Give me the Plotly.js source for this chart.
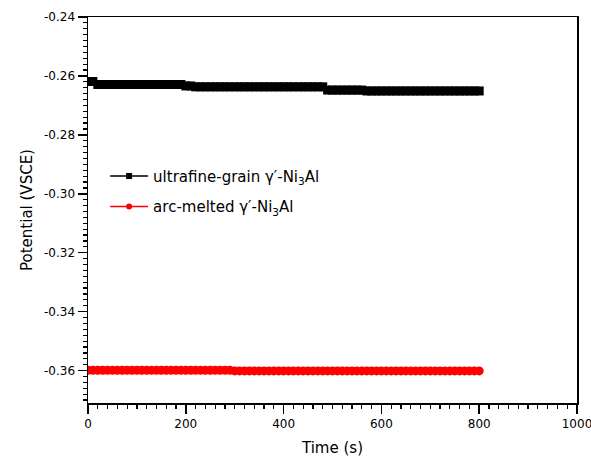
<!DOCTYPE html>
<html>
<head>
<meta charset="utf-8">
<script src="https://cdn.plot.ly/plotly-3.0.1.min.js"></script>
<style>html,body{margin:0;padding:0;background:#fff;}#chart{width:591px;height:461px;}</style>
</head>
<body>
<div id="chart"></div>
<script>
// Time in seconds (sampled every 10 s)
const timeS = [0,10,20,30,40,50,60,70,80,90,100,110,120,130,140,150,160,170,180,190,
  200,210,220,230,240,250,260,270,280,290,300,310,320,330,340,350,360,370,380,390,
  400,410,420,430,440,450,460,470,480,490,500,510,520,530,540,550,560,570,580,590,
  600,610,620,630,640,650,660,670,680,690,700,710,720,730,740,750,760,770,780,790,800];

// Potential (V vs SCE), ultrafine-grain γ'-Ni3Al
const ultrafine = [-0.2619,-0.2619,
  -0.2629,-0.2629,-0.2629,-0.2629,-0.2629,-0.2629,-0.2629,-0.2629,-0.2629,-0.2629,
  -0.2629,-0.2629,-0.2629,-0.2629,-0.2629,-0.2629,-0.2629,-0.2629,
  -0.2634,-0.2634,
  -0.2637,-0.2637,-0.2637,-0.2637,-0.2637,-0.2637,-0.2637,-0.2637,-0.2637,-0.2637,
  -0.2637,-0.2637,-0.2637,-0.2637,-0.2637,-0.2637,-0.2637,-0.2637,-0.2637,-0.2637,
  -0.2637,-0.2637,-0.2637,-0.2637,-0.2637,-0.2637,-0.2637,
  -0.2648,-0.2648,-0.2648,-0.2648,-0.2648,-0.2648,-0.2648,-0.2648,
  -0.2651,-0.2651,-0.2651,-0.2651,-0.2651,-0.2651,-0.2651,-0.2651,-0.2651,-0.2651,
  -0.2651,-0.2651,-0.2651,-0.2651,-0.2651,-0.2651,-0.2651,-0.2651,-0.2651,-0.2651,
  -0.2651,-0.2651,-0.2651,-0.2651];

// Potential (V vs SCE), arc-melted γ'-Ni3Al
const arcMelted = [-0.3599,-0.3599,-0.3599,-0.3599,-0.3599,-0.3599,-0.3599,-0.3599,-0.3599,-0.3599,
  -0.3599,-0.3599,-0.3599,-0.3599,-0.3599,-0.3599,-0.3599,-0.3599,-0.3599,-0.3599,
  -0.3599,-0.3599,-0.3599,-0.3599,-0.3599,-0.3599,-0.3599,-0.3599,-0.3599,-0.3599,
  -0.3601,-0.3601,-0.3601,-0.3601,-0.3601,-0.3601,-0.3601,-0.3601,-0.3601,-0.3601,
  -0.3601,-0.3601,-0.3601,-0.3601,-0.3601,-0.3601,-0.3601,-0.3601,-0.3601,-0.3601,
  -0.3601,-0.3601,-0.3601,-0.3601,-0.3601,-0.3601,-0.3601,-0.3601,-0.3601,-0.3601,
  -0.3601,-0.3601,-0.3601,-0.3601,-0.3601,-0.3601,-0.3601,-0.3601,-0.3601,-0.3601,
  -0.3601,-0.3601,-0.3601,-0.3601,-0.3601,-0.3601,-0.3601,-0.3601,-0.3601,-0.3601,-0.3601];

const seriesNames = ["ultrafine-grain γ′-Ni<sub>3</sub>Al", "arc-melted γ′-Ni<sub>3</sub>Al"];
const xTitle = "Time (s)";
const yTitle = "Potential (VSCE)";
const xTickVals = [0, 200, 400, 600, 800, 1000];
const yTickVals = [-0.24, -0.26, -0.28, -0.30, -0.32, -0.34, -0.36];
const yTickText = ["-0.24", "-0.26", "-0.28", "-0.30", "-0.32", "-0.34", "-0.36"];

const font = "DejaVu Sans, Verdana, sans-serif";

const traces = [
  {x: timeS, y: ultrafine, name: seriesNames[0], type: "scatter", mode: "lines+markers",
   showlegend: false,
   line: {color: "#000000", width: 2},
   marker: {symbol: "square", size: 9, color: "#000000"}},
  {x: timeS, y: arcMelted, name: seriesNames[1], type: "scatter", mode: "lines+markers",
   showlegend: false,
   line: {color: "#ff0000", width: 2},
   marker: {symbol: "circle", size: 9, color: "#ff0000"}},
  // legend entries (no data of their own)
  {x: [null], y: [null], name: seriesNames[0], type: "scatter", mode: "lines+markers",
   legendgroup: "a",
   line: {color: "#000000", width: 1.5},
   marker: {symbol: "square", size: 6, color: "#000000"}},
  {x: [null], y: [null], name: seriesNames[1], type: "scatter", mode: "lines+markers",
   legendgroup: "b",
   line: {color: "#ff0000", width: 1.5},
   marker: {symbol: "circle", size: 6, color: "#ff0000"}}
];

const axisCommon = {
  showline: true, linecolor: "#000", linewidth: 1.5, mirror: true,
  ticks: "outside", ticklen: 9, tickwidth: 1.5, tickcolor: "#000",
  showgrid: false, zeroline: false, ticklabeloverflow: "allow",
  tickfont: {family: font, size: 12, color: "#000"}
};

const layout = {
  width: 591, height: 461,
  margin: {l: 88, r: 14, t: 17, b: 58},
  paper_bgcolor: "#fff", plot_bgcolor: "#fff",
  font: {family: font, color: "#000"},
  showlegend: true,
  legend: {x: 0.035, y: 0.63, xanchor: "left", yanchor: "top",
    bgcolor: "rgba(0,0,0,0)", font: {family: font, size: 15, color: "#000"},
    traceorder: "grouped", tracegroupgap: 8, itemwidth: 38},
  xaxis: Object.assign({}, axisCommon, {
    range: [0, 1000], tickmode: "array", tickvals: xTickVals,
    minor: {ticks: "outside", dtick: 20, tick0: 0, ticklen: 4, tickwidth: 1.2, tickcolor: "#000"},
    title: {text: xTitle, font: {family: font, size: 15}, standoff: 12}
  }),
  yaxis: Object.assign({}, axisCommon, {
    range: [-0.371, -0.24], tickmode: "array", tickvals: yTickVals, ticktext: yTickText,
    minor: {ticks: "outside", dtick: 0.002, tick0: -0.24, ticklen: 4, tickwidth: 1.2, tickcolor: "#000"},
    title: {text: yTitle, font: {family: font, size: 15}, standoff: 8}
  })
};

Plotly.newPlot("chart", traces, layout, {displayModeBar: false, staticPlot: true});
</script>
</body>
</html>
